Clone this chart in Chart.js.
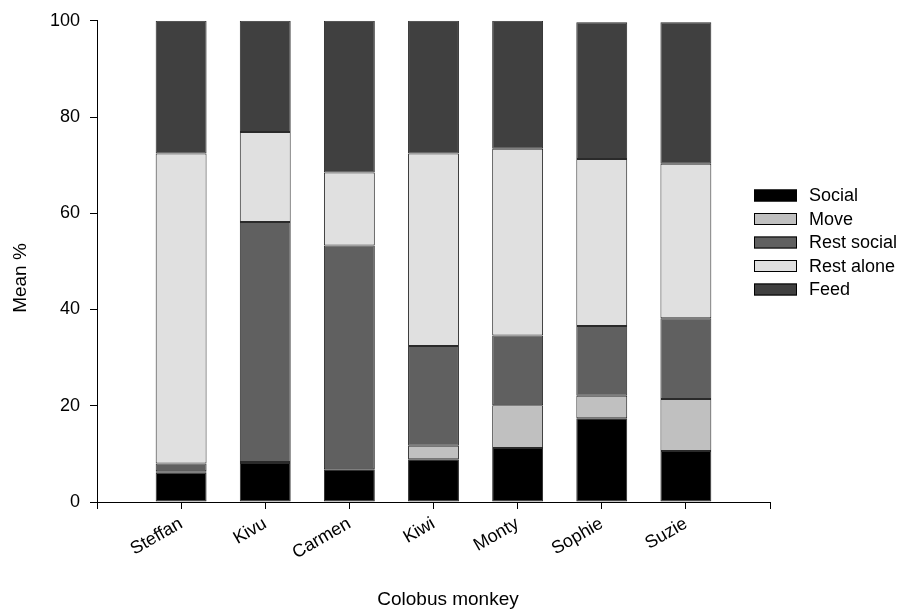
<!DOCTYPE html>
<html>
<head>
<meta charset="utf-8">
<script src="https://cdn.jsdelivr.net/npm/chart.js@4.4.1/dist/chart.umd.min.js"></script>
<style>
  html, body { margin: 0; padding: 0; background: #ffffff; }
  canvas { display: block; }
</style>
</head>
<body>
<canvas id="chart" width="901" height="615"></canvas>
<script>
// Time budget (mean %) per activity for each colobus monkey
const monkeys    = ['Steffan', 'Kivu', 'Carmen', 'Kiwi', 'Monty', 'Sophie', 'Suzie'];
const social     = [6.1, 8.1, 6.8, 8.9, 11.2, 17.4, 10.6];
const move       = [0.3, 0.2, 0.0, 2.8, 8.9, 4.7, 10.8];
const restSocial = [1.6, 49.9, 46.5, 20.7, 14.5, 14.5, 16.8];
const restAlone  = [64.4, 18.7, 15.2, 40.0, 38.8, 34.7, 32.1];
const feed       = [27.6, 23.1, 31.5, 27.6, 26.6, 28.4, 29.4];
const yTicks     = [0, 20, 40, 60, 80, 100];

const FONT = '"Liberation Sans", Arial, sans-serif';

// bars sit at x = 1..7 on a linear axis running 0..8
const toPoints = vals => vals.map((v, i) => ({ x: i + 1, y: v }));

const series = [
  { label: 'Social',      values: social,     color: '#000000' },
  { label: 'Move',        values: move,       color: '#c0c0c0' },
  { label: 'Rest social', values: restSocial, color: '#606060' },
  { label: 'Rest alone',  values: restAlone,  color: '#e0e0e0' },
  { label: 'Feed',        values: feed,       color: '#404040' }
];

// legend box and axis titles drawn on the canvas
const decorations = {
  id: 'decorations',
  afterDraw(chart) {
    const ctx = chart.ctx;
    ctx.save();
    ctx.font = '18px ' + FONT;
    ctx.textBaseline = 'middle';
    ctx.textAlign = 'left';
    chart.data.datasets.forEach((ds, i) => {
      const cy = 195.5 + i * 23.5;
      ctx.fillStyle = ds.backgroundColor;
      ctx.fillRect(754, cy - 6, 43, 12);
      ctx.strokeStyle = '#000000';
      ctx.lineWidth = 1;
      ctx.strokeRect(754.5, cy - 5.5, 42, 11);
      ctx.fillStyle = '#000000';
      ctx.fillText(ds.label, 809, cy + 1);
    });

    ctx.font = '19px ' + FONT;
    ctx.textAlign = 'center';
    ctx.fillText('Colobus monkey', 448, 600);
    ctx.translate(21, 278);
    ctx.rotate(-Math.PI / 2);
    ctx.fillText('Mean %', 0, 0);
    ctx.restore();
  }
};

new Chart(document.getElementById('chart'), {
  type: 'bar',
  data: {
    datasets: series.map(s => ({
      label: s.label,
      data: toPoints(s.values),
      backgroundColor: s.color,
      borderColor: '#2a2a2a',
      borderWidth: 1,
      borderSkipped: false,
      categoryPercentage: 1,
      barPercentage: 0.605
    }))
  },
  options: {
    responsive: false,
    animation: false,
    layout: { padding: { top: 19, right: 131, bottom: 0, left: 0 } },
    plugins: {
      legend: { display: false },
      tooltip: { enabled: false }
    },
    scales: {
      x: {
        type: 'linear',
        stacked: true,
        offset: false,
        min: 0,
        max: 8,
        afterFit(scale) { scale.height = 113; },
        afterBuildTicks(scale) {
          scale.ticks = [0, 1, 2, 3, 4, 5, 6, 7, 8].map(v => ({ value: v }));
        },
        ticks: {
          autoSkip: false,
          minRotation: 30,
          maxRotation: 30,
          padding: 4,
          color: '#000000',
          font: { family: FONT, size: 18 },
          callback: v => monkeys[v - 1] || ''
        },
        grid: {
          offset: false,
          drawOnChartArea: false,
          drawTicks: true,
          tickLength: 7,
          color: '#000000',
          lineWidth: 1
        },
        border: { display: true, color: '#000000', width: 1 }
      },
      y: {
        stacked: true,
        min: 0,
        max: 100,
        afterFit(scale) { scale.width = 97; },
        afterBuildTicks(scale) {
          scale.ticks = yTicks.map(v => ({ value: v }));
        },
        ticks: {
          padding: 10,
          color: '#000000',
          font: { family: FONT, size: 18 }
        },
        grid: {
          drawOnChartArea: false,
          drawTicks: true,
          tickLength: 7,
          color: '#000000',
          lineWidth: 1
        },
        border: { display: true, color: '#000000', width: 1 }
      }
    }
  },
  plugins: [decorations]
});
</script>
</body>
</html>
